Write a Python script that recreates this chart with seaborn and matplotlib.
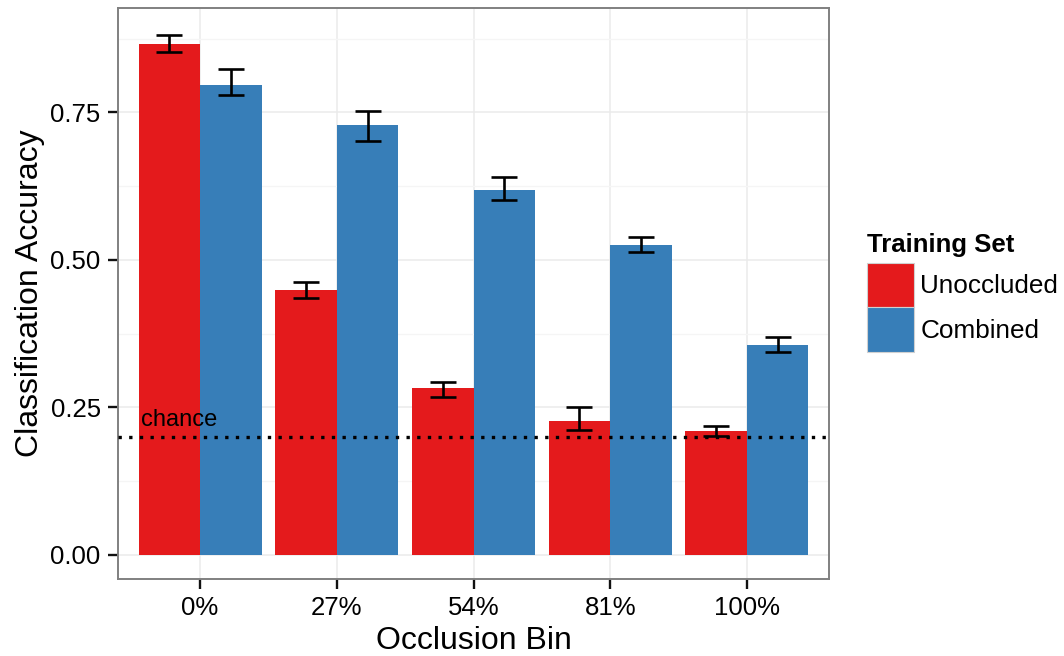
import matplotlib
matplotlib.use("Agg")
import matplotlib.pyplot as plt
import seaborn as sns
import pandas as pd
import numpy as np
from matplotlib.patches import Patch
from matplotlib.ticker import MultipleLocator

# ---- data ----
bins = ["0%", "27%", "54%", "81%", "100%"]
training_sets = ["Unoccluded", "Combined"]
unoccluded = [0.866, 0.449, 0.283, 0.227, 0.210]
unoccluded_lo = [0.853, 0.436, 0.268, 0.212, 0.202]
unoccluded_hi = [0.881, 0.463, 0.293, 0.251, 0.218]
combined = [0.797, 0.729, 0.619, 0.525, 0.356]
combined_lo = [0.780, 0.702, 0.602, 0.514, 0.344]
combined_hi = [0.824, 0.753, 0.641, 0.539, 0.369]
chance = 0.2
colors = ["#E41A1C", "#377EB8"]

df = pd.DataFrame({
    "Occlusion Bin": bins * 2,
    "Training Set": [training_sets[0]] * len(bins) + [training_sets[1]] * len(bins),
    "acc": unoccluded + combined,
    "lo": unoccluded_lo + combined_lo,
    "hi": unoccluded_hi + combined_hi,
})

sns.set_theme(style="white")
plt.rcParams["font.family"] = ["Liberation Sans", "DejaVu Sans"]
plt.rcParams["text.color"] = "black"
plt.rcParams["axes.labelcolor"] = "black"

fig = plt.figure(figsize=(10.64, 6.56), dpi=100)
ax = fig.add_axes([118 / 1064, 1 - 579 / 656, (829 - 118) / 1064, (579 - 8) / 656])

sns.barplot(data=df, x="Occlusion Bin", y="acc", hue="Training Set",
            order=bins, hue_order=training_sets, palette=colors,
            width=0.9, saturation=1, errorbar=None, legend=False, ax=ax,
            linewidth=0, zorder=2)

# error bars from bar positions
patches = [p for p in ax.patches if p.get_height() > 0]
for p, (_, row) in zip(patches, df.iterrows()):
    xc = p.get_x() + p.get_width() / 2
    ax.errorbar(xc, row["acc"], yerr=[[row["acc"] - row["lo"]], [row["hi"] - row["acc"]]],
                fmt="none", ecolor="black", elinewidth=1.9, capsize=9.7, capthick=1.9, zorder=4)

ax.axhline(chance, color="black", linestyle=(0, (1, 2.2)), linewidth=2.4, zorder=5)
ax.text(-0.43, chance + 0.01, "chance", fontsize=17, color="black",
        ha="left", va="bottom", zorder=6)

ax.set_xlim(-0.6, 4.6)
ax.set_ylim(-0.0407, 0.927)
ax.yaxis.set_minor_locator(MultipleLocator(0.125))
ax.set_yticks([0, 0.25, 0.5, 0.75])
ax.set_yticklabels(["0.00", "0.25", "0.50", "0.75"])

ax.grid(True, which="major", color="#EBEBEB", linewidth=1.1, zorder=0)
ax.grid(True, which="minor", axis="y", color="#F5F5F5", linewidth=1.0, zorder=0)
ax.set_axisbelow(True)
for s in ax.spines.values():
    s.set_visible(True)
    s.set_color("#808080")
    s.set_linewidth(1.4)

ax.tick_params(axis="both", which="major", direction="out", length=7.5, width=1.7,
               color="#111111", labelsize=18.5, labelcolor="black", pad=5, left=True, bottom=True)
ax.tick_params(axis="y", which="minor", length=0)

ax.set_xlabel("Occlusion Bin", fontsize=23, labelpad=4, color="black")
ax.set_ylabel("Classification Accuracy", fontsize=23, labelpad=4, color="black")

handles = [Patch(facecolor=c, edgecolor="#D0D0D0", linewidth=0.8) for c in colors]
leg = fig.legend(handles, training_sets, title="Training Set", loc="upper left",
                 bbox_to_anchor=(862 / 1064, 1 - 228 / 656), frameon=False,
                 fontsize=18.8, title_fontproperties={"weight": "bold", "size": 18.5},
                 handlelength=1.8, handleheight=2.24, labelspacing=0.0, handletextpad=0.23,
                 borderaxespad=0, borderpad=0.2, alignment="left", labelcolor="black")
leg.get_title().set_color("black")
leg._legend_box.sep = 4

fig.savefig("out.png", dpi=100)
